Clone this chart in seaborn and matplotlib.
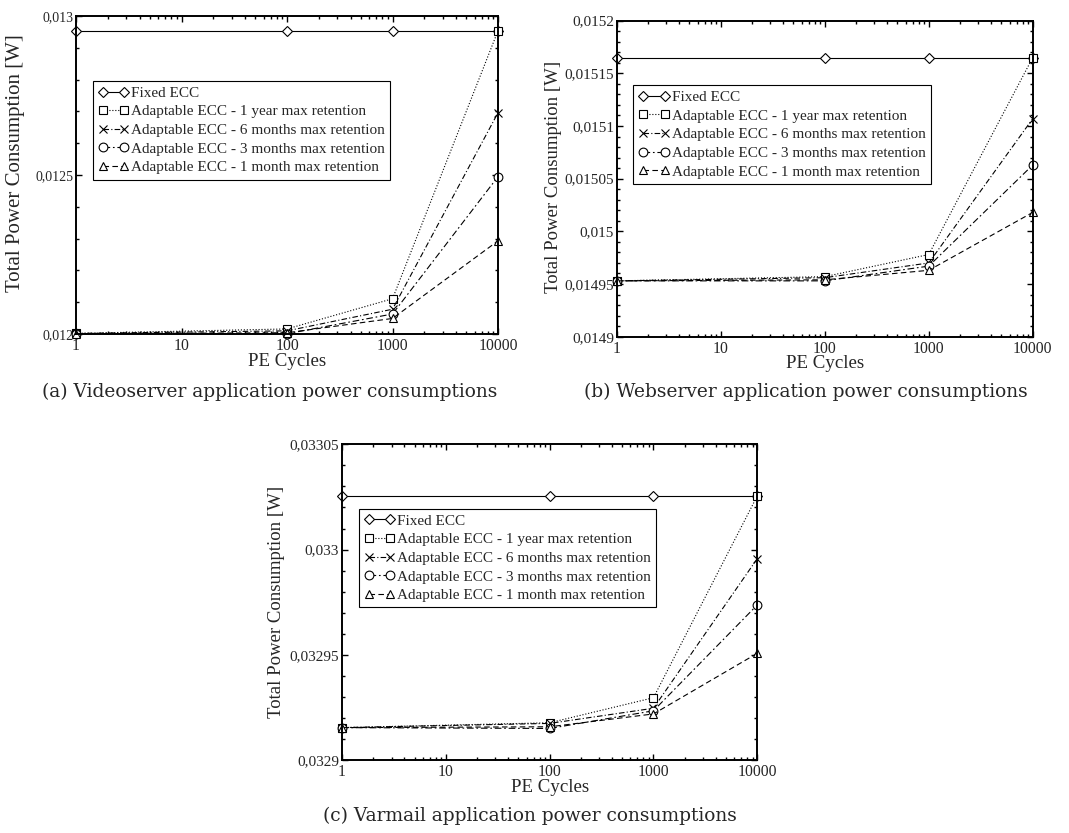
import matplotlib
matplotlib.use("Agg")
import matplotlib.pyplot as plt
import seaborn as sns
import pandas as pd
from matplotlib.ticker import FuncFormatter, MultipleLocator, LogLocator, FixedLocator

pe_cycles = [1, 100, 1000, 10000]
series_names = [
    "Fixed ECC",
    "Adaptable ECC - 1 year max retention",
    "Adaptable ECC - 6 months max retention",
    "Adaptable ECC - 3 months max retention",
    "Adaptable ECC - 1 month max retention",
]

# (a) videoserver
video_fixed = [0.012954, 0.012954, 0.012954, 0.012954]
video_1year = [0.012002, 0.012016, 0.012111, 0.012954]
video_6months = [0.012002, 0.012010, 0.012078, 0.012696]
video_3months = [0.012001, 0.012001, 0.012063, 0.012495]
video_1month = [0.012001, 0.012004, 0.012049, 0.012293]

# (b) webserver
web_fixed = [0.015165, 0.015165, 0.015165, 0.015165]
web_1year = [0.014953, 0.014957, 0.014978, 0.015165]
web_6months = [0.014953, 0.014956, 0.014970, 0.015107]
web_3months = [0.014953, 0.014953, 0.014967, 0.015063]
web_1month = [0.014953, 0.014954, 0.014963, 0.015018]

# (c) varmail
mail_fixed = [0.0330255, 0.0330255, 0.0330255, 0.0330255]
mail_1year = [0.0329154, 0.0329177, 0.0329296, 0.0330255]
mail_6months = [0.0329154, 0.0329174, 0.0329246, 0.0329957]
mail_3months = [0.0329154, 0.0329150, 0.0329234, 0.0329737]
mail_1month = [0.0329154, 0.0329158, 0.0329219, 0.0329507]

captions = [
    "(a) Videoserver application power consumptions",
    "(b) Webserver application power consumptions",
    "(c) Varmail application power consumptions",
]

sns.set_style("ticks")
plt.rcParams["font.family"] = ["Liberation Serif", "DejaVu Serif"]

markers = ["D", "s", "x", "o", "^"]
msizes = [4.8, 5.3, 5.3, 6.3, 6]
styles = ["-", ":", (0, (5, 2, 1, 2)), (0, (6, 2.5, 1.5, 2.5)), (0, (5, 3))]

fig = plt.figure(figsize=(10.69, 8.33), dpi=100)

panels = [
    dict(rect=[0.0711, 0.599, 0.3948, 0.3818],
         data=[video_fixed, video_1year, video_6months, video_3months, video_1month],
         ylim=(0.012, 0.013), major=0.0005, minor=0.0001,
         ytick_size=10, ylab_size=15, ylab_pos=(-0.121, 0.538), cap=(270, 392)),
    dict(rect=[0.5769, 0.5958, 0.3892, 0.3794],
         data=[web_fixed, web_1year, web_6months, web_3months, web_1month],
         ylim=(0.0149, 0.0152), major=0.00005, minor=0.00001,
         ytick_size=11, ylab_size=13.5, ylab_pos=(-0.131, 0.505), cap=(806, 392)),
    dict(rect=[0.3199, 0.0876, 0.3885, 0.379],
         data=[mail_fixed, mail_1year, mail_6months, mail_3months, mail_1month],
         ylim=(0.0329, 0.03305), major=0.00005, minor=0.00001,
         ytick_size=11, ylab_size=13.5, ylab_pos=(-0.137, 0.5), cap=(530, 816)),
]


def comma_fmt(v, pos):
    s = ("%.6f" % v).rstrip("0").rstrip(".")
    return s.replace(".", ",")


for i, p in enumerate(panels):
    ax = fig.add_axes(p["rect"])
    for name, vals, mk, ms, ls in zip(series_names, p["data"], markers, msizes, styles):
        df = pd.DataFrame({"pe": pe_cycles, "power": vals})
        sns.lineplot(data=df, x="pe", y="power", ax=ax, color="black",
                     linewidth=0.8, linestyle=ls, marker=mk, markersize=ms,
                     markerfacecolor="white", markeredgecolor="black",
                     markeredgewidth=0.8, label=name, clip_on=False)
    ax.set_xscale("log")
    ax.set_xlim(1, 10000)
    ax.set_ylim(*p["ylim"])
    ax.xaxis.set_major_locator(FixedLocator([1, 10, 100, 1000, 10000]))
    ax.xaxis.set_minor_locator(LogLocator(base=10, subs=range(2, 10)))
    ax.xaxis.set_major_formatter(FuncFormatter(lambda v, pos: "%d" % v))
    ax.yaxis.set_major_locator(MultipleLocator(p["major"]))
    ax.yaxis.set_minor_locator(MultipleLocator(p["minor"]))
    ax.yaxis.set_major_formatter(FuncFormatter(comma_fmt))
    ax.tick_params(which="both", direction="in", top=True, right=True,
                   pad=3, width=1.0, color="black")
    ax.tick_params(which="major", length=4.5)
    ax.tick_params(which="minor", length=2.3)
    ax.tick_params(axis="x", labelsize=11.3)
    ax.tick_params(axis="y", labelsize=p["ytick_size"], pad=2)
    for sp in ax.spines.values():
        sp.set_linewidth(1.4)
        sp.set_color("black")
    ax.set_xlabel("PE Cycles", fontsize=13.6, labelpad=-1)
    ax.set_ylabel("Total Power Consumption [W]", fontsize=p["ylab_size"])
    ax.yaxis.set_label_coords(*p["ylab_pos"])
    leg = ax.legend(loc="upper left", bbox_to_anchor=(0.04, 0.796),
                    borderaxespad=0, numpoints=2, handlelength=2.0,
                    handletextpad=0.15, borderpad=0.35, labelspacing=0.32,
                    fontsize=11, fancybox=False, framealpha=1,
                    edgecolor="black")
    leg.get_frame().set_linewidth(0.8)
    cx, cy = p["cap"]
    fig.text(cx / 1069, 1 - cy / 833, captions[i], ha="center", va="center",
             fontsize=13.4, family="DejaVu Serif")

fig.savefig("out.png", dpi=100)
